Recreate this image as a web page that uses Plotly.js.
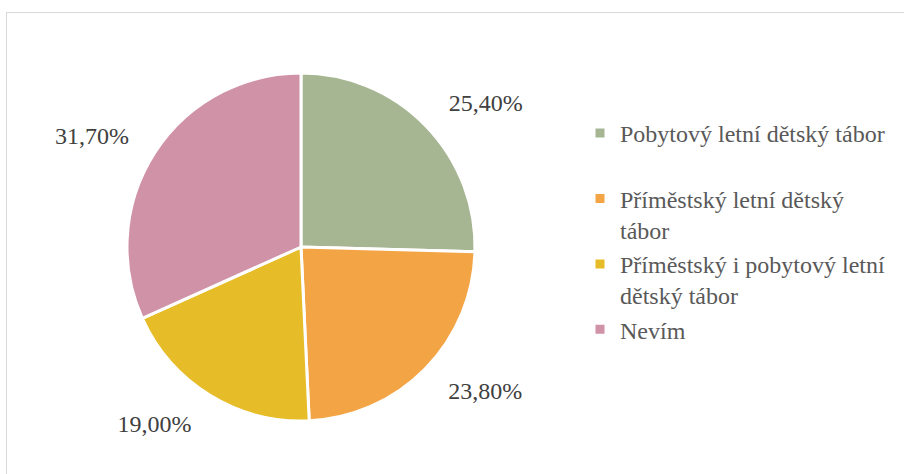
<!DOCTYPE html>
<html>
<head>
<meta charset="utf-8">
<script src="https://cdn.plot.ly/plotly-3.0.1.min.js"></script>
<style>
  html, body { margin: 0; padding: 0; background: #ffffff; overflow: hidden; }
  #frame { position: absolute; left: 6px; top: 12px; width: 940px; height: 500px; border: 1px solid #d9d9d9; box-sizing: border-box; }
  #chart { position: absolute; left: 0; top: 0; width: 904px; height: 474px; }
</style>
</head>
<body>
<div id="frame"></div>
<div id="chart"></div>
<script>
const categories = [
  "Pobytový letní dětský tábor<br> ",
  "Příměstský letní dětský<br>tábor",
  "Příměstský i pobytový letní<br>dětský tábor",
  "Nevím"
];
const values = [25.4, 23.8, 19.0, 31.7];
const colors = ["#A6B592", "#F3A546", "#E6BC29", "#D092A7"];

const W = 904, H = 474;
const cx = 301, cy = 247, r = 174, rLabel = 197;
const SERIF = "'Liberation Serif', 'Times New Roman', serif";

function dom(rad) {
  return {
    x: [(cx - rad) / W, (cx + rad) / W],
    y: [(H - cy - rad) / H, (H - cy + rad) / H]
  };
}

// visible pie (slices + legend)
const pieTrace = {
  type: "pie",
  labels: categories,
  values: values,
  sort: false,
  direction: "clockwise",
  rotation: 0,
  marker: { colors: colors, line: { color: "#ffffff", width: 3 } },
  textinfo: "none",
  hoverinfo: "label+percent",
  domain: dom(r)
};

// transparent companion pie carrying the outside data labels a bit further out
const labelTrace = {
  type: "pie",
  labels: categories,
  values: values,
  sort: false,
  direction: "clockwise",
  rotation: 0,
  showlegend: false,
  marker: { colors: categories.map(() => "rgba(0,0,0,0)"), line: { width: 0 } },
  textposition: "outside",
  texttemplate: "%{value:.2f}%",
  outsidetextfont: { family: SERIF, size: 24, color: "#404040" },
  hoverinfo: "skip",
  domain: dom(rLabel)
};

const layout = {
  width: W,
  height: H,
  margin: { l: 0, r: 0, t: 0, b: 0 },
  paper_bgcolor: "rgba(0,0,0,0)",
  plot_bgcolor: "rgba(0,0,0,0)",
  separators: ",.",
  showlegend: true,
  font: { family: SERIF },
  legend: {
    x: 580 / W,
    xanchor: "left",
    y: 1 - 111 / H,
    yanchor: "top",
    valign: "top",
    font: { family: SERIF, size: 24, color: "#595959" },
    bgcolor: "rgba(0,0,0,0)",
    itemwidth: 30
  }
};

Plotly.newPlot("chart", [labelTrace, pieTrace], layout, { displayModeBar: false, staticPlot: true });
</script>
</body>
</html>
